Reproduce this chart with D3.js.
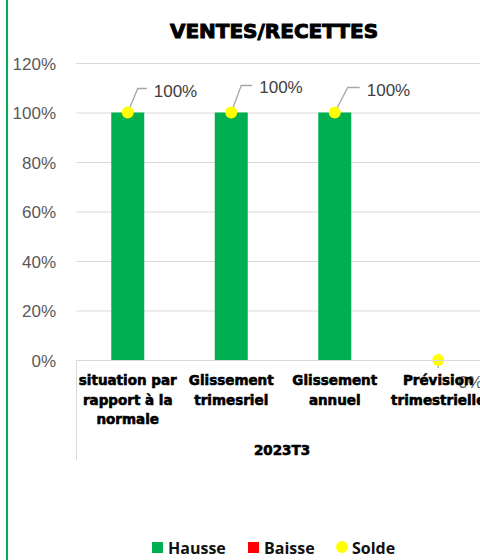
<!DOCTYPE html>
<html>
<head>
<meta charset="utf-8">
<script src="https://cdn.jsdelivr.net/npm/d3@7"></script>
<style>
  body { margin: 0; background: #fff; }
  svg { display: block; }
</style>
</head>
<body>
<svg width="480" height="560"></svg>
<script>
var categories = [
  ["situation par", "rapport à la", "normale"],
  ["Glissement", "trimesriel"],
  ["Glissement", "annuel"],
  ["Prévision", "trimestrielle"]
];
var hausse = [1, 1, 1, 0];
var baisse = [0, 0, 0, 0];
var solde = [1, 1, 1, 0];
var soldeLabels = ["100%", "100%", "100%", "0%"];
var yTicks = [0, 0.2, 0.4, 0.6, 0.8, 1.0, 1.2];
var groupLabel = "2023T3";

var svg = d3.select("svg"),
    width = +svg.attr("width"),
    height = +svg.attr("height");

// left border of the cell
svg.append("line")
    .attr("x1", 7).attr("x2", 7).attr("y1", 0).attr("y2", height)
    .attr("stroke", "#00b050").attr("stroke-width", 2);

var x = d3.scaleBand()
    .domain(d3.range(categories.length))
    .range([76, 490])
    .paddingInner(0).paddingOuter(0);

var y = d3.scaleLinear()
    .domain([0, 1.2])
    .range([360, 63]);

var heavy = "DejaVu Sans, Liberation Sans, sans-serif";

// gridlines
svg.append("g")
    .selectAll("line")
    .data(yTicks)
    .enter().append("line")
    .attr("x1", 76).attr("x2", 490)
    .attr("y1", d => y(d) + 0.5).attr("y2", d => y(d) + 0.5)
    .attr("stroke", "#d9d9d9").attr("stroke-width", 1);

// y axis labels
var yAxis = d3.axisLeft(y).tickValues(yTicks).tickFormat(d3.format(".0%")).tickSize(0).tickPadding(0);
var gy = svg.append("g").attr("transform", "translate(56,0)").call(yAxis);
gy.select(".domain").remove();
gy.selectAll("text")
    .attr("font-family", "Liberation Sans, Arial, sans-serif")
    .attr("font-size", 17)
    .attr("fill", "#595959")
    .attr("dy", "0.36em");

// title
svg.append("text")
    .attr("x", 274).attr("y", 38)
    .attr("text-anchor", "middle")
    .attr("font-family", heavy)
    .attr("font-weight", "bold")
    .attr("font-size", 20)
    .attr("stroke", "#000").attr("stroke-width", 1)
    .attr("fill", "#000")
    .text("VENTES/RECETTES");

var barW = 33;

// bars
svg.append("g")
    .selectAll("rect")
    .data(hausse)
    .enter().append("rect")
    .attr("x", (d, i) => x(i) + x.bandwidth() / 2 - barW / 2)
    .attr("y", d => y(d))
    .attr("width", barW)
    .attr("height", d => y(0) - y(d))
    .attr("fill", "#00b050");

svg.append("g")
    .selectAll("rect")
    .data(baisse)
    .enter().append("rect")
    .attr("x", (d, i) => x(i) + x.bandwidth() / 2 - barW / 2)
    .attr("y", d => y(d))
    .attr("width", barW)
    .attr("height", d => y(0) - y(d))
    .attr("fill", "#ff0000");

// category axis (multi level)
var axisG = svg.append("g");
axisG.append("line")
    .attr("x1", 76).attr("x2", 490).attr("y1", 360.5).attr("y2", 360.5)
    .attr("stroke", "#d9d9d9");
axisG.append("line")
    .attr("x1", 76.5).attr("x2", 76.5).attr("y1", 360).attr("y2", 460)
    .attr("stroke", "#d9d9d9");

// solde points with leader lines and labels (drawn before category text, which sits on top)
var labelOffsets = [[10, -24, 19, -16], [10, -27, 21, -20], [13, -25, 25, -17], [0, 8, 20, 28]];
var pts = svg.append("g");
solde.forEach(function (v, i) {
    var cx = x(i) + x.bandwidth() / 2, cy = y(v);
    var o = labelOffsets[i];
    if (v > 0) {
        pts.append("polyline")
            .attr("points", [[cx, cy], [cx + o[0], cy + o[1]], [cx + o[2], cy + o[1]]].map(p => p.join(",")).join(" "))
            .attr("fill", "none").attr("stroke", "#a6a6a6").attr("stroke-width", 1.3);
        pts.append("text")
            .attr("x", cx + o[2] + 7).attr("y", cy + o[3])
            .attr("font-family", "Liberation Sans, Arial, sans-serif")
            .attr("font-size", 17).attr("fill", "#404040")
            .text(soldeLabels[i]);
    } else {
        pts.append("line")
            .attr("x1", cx).attr("x2", cx).attr("y1", cy).attr("y2", cy + o[1])
            .attr("stroke", "#a6a6a6").attr("stroke-width", 1.3);
        pts.append("text")
            .attr("x", cx + o[2]).attr("y", cy + o[3])
            .attr("font-family", "Liberation Sans, Arial, sans-serif")
            .attr("font-size", 17).attr("fill", "#595959")
            .text(soldeLabels[i]);
    }
    pts.append("circle")
        .attr("cx", cx).attr("cy", cy).attr("r", 6)
        .attr("fill", "#ffff00");
});

categories.forEach(function (lines, i) {
    var t = axisG.append("text")
        .attr("text-anchor", "middle")
        .attr("font-family", heavy)
        .attr("font-weight", "bold")
        .attr("font-size", 13.5)
        .attr("stroke", "#000").attr("stroke-width", 0.6)
        .attr("fill", "#000");
    lines.forEach(function (l, j) {
        t.append("tspan")
            .attr("x", x(i) + x.bandwidth() / 2)
            .attr("y", 385 + j * 19.5)
            .text(l);
    });
});
axisG.raise();

axisG.append("text")
    .attr("x", 282)
    .attr("y", 455)
    .attr("text-anchor", "middle")
    .attr("font-family", heavy)
    .attr("font-weight", "bold")
    .attr("font-size", 13.5)
    .attr("stroke", "#000").attr("stroke-width", 0.6)
    .text(groupLabel);

// legend
var legend = [
    { name: "Hausse", color: "#00b050", shape: "rect", x: 152 },
    { name: "Baisse", color: "#ff0000", shape: "rect", x: 248 },
    { name: "Solde", color: "#ffff00", shape: "circle", x: 336 }
];
var lg = svg.append("g");
legend.forEach(function (d) {
    if (d.shape == "rect") {
        lg.append("rect").attr("x", d.x).attr("y", 542).attr("width", 11).attr("height", 11).attr("fill", d.color);
    } else {
        lg.append("circle").attr("cx", d.x + 6).attr("cy", 547).attr("r", 6).attr("fill", d.color);
    }
    lg.append("text")
        .attr("x", d.x + 16).attr("y", 554)
        .attr("font-family", "Open Sans, Liberation Sans, sans-serif")
        .attr("font-weight", "bold")
        .attr("font-size", 16)
        .attr("fill", "#111")
        .text(d.name);
});
</script>
</body>
</html>
